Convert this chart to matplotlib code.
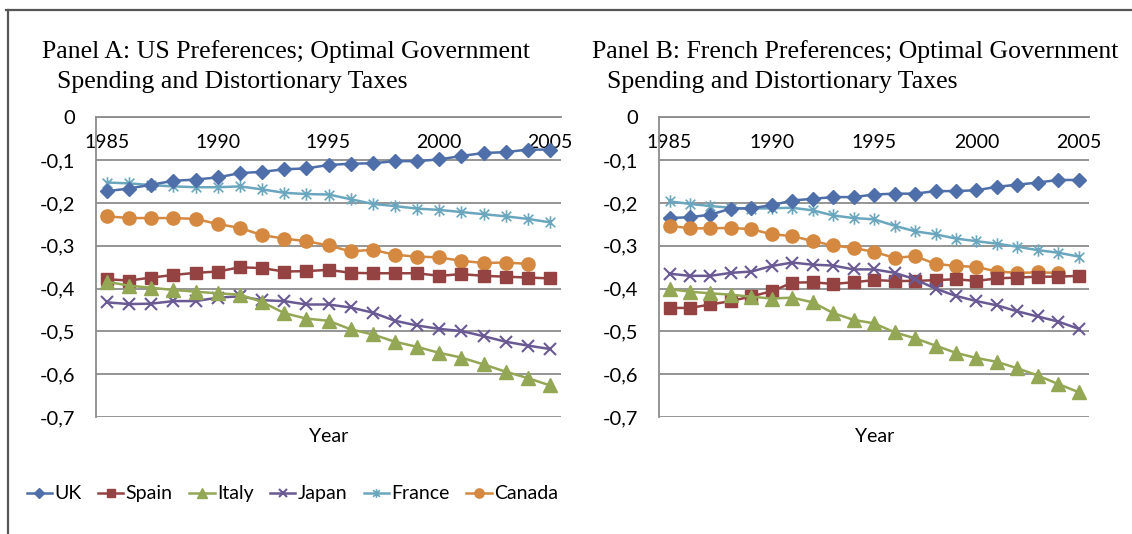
import matplotlib
matplotlib.use('Agg')
import matplotlib.pyplot as plt
from matplotlib.lines import Line2D
from matplotlib.path import Path

years = list(range(1985, 2006))
years_canada = list(range(1985, 2005))

# Panel A: US preferences
uk_a = [-0.172, -0.166, -0.157, -0.148, -0.145, -0.140, -0.130, -0.127, -0.121, -0.119, -0.111,
        -0.108, -0.107, -0.102, -0.102, -0.098, -0.090, -0.083, -0.081, -0.075, -0.075]
spain_a = [-0.378, -0.381, -0.374, -0.368, -0.363, -0.360, -0.350, -0.352, -0.360, -0.359, -0.356,
           -0.363, -0.364, -0.364, -0.364, -0.370, -0.366, -0.370, -0.372, -0.374, -0.376]
italy_a = [-0.384, -0.393, -0.398, -0.403, -0.407, -0.411, -0.414, -0.431, -0.457, -0.470, -0.475,
           -0.495, -0.507, -0.524, -0.536, -0.550, -0.561, -0.577, -0.594, -0.609, -0.626]
japan_a = [-0.432, -0.436, -0.435, -0.429, -0.429, -0.421, -0.418, -0.427, -0.429, -0.437, -0.437,
           -0.444, -0.456, -0.475, -0.486, -0.494, -0.499, -0.511, -0.524, -0.533, -0.541]
france_a = [-0.152, -0.154, -0.158, -0.161, -0.163, -0.163, -0.161, -0.168, -0.176, -0.179, -0.180,
            -0.191, -0.202, -0.207, -0.213, -0.216, -0.221, -0.226, -0.231, -0.237, -0.245]
canada_a = [-0.231, -0.235, -0.235, -0.235, -0.237, -0.249, -0.258, -0.275, -0.283, -0.289,
            -0.299, -0.313, -0.309, -0.321, -0.325, -0.327, -0.335, -0.340, -0.339, -0.342]

# Panel B: French preferences
uk_b = [-0.235, -0.233, -0.227, -0.213, -0.212, -0.205, -0.194, -0.190, -0.186, -0.186, -0.180,
        -0.178, -0.178, -0.172, -0.172, -0.170, -0.162, -0.157, -0.152, -0.146, -0.146]
spain_b = [-0.445, -0.445, -0.437, -0.429, -0.418, -0.406, -0.386, -0.385, -0.389, -0.385, -0.380,
           -0.382, -0.382, -0.380, -0.378, -0.382, -0.376, -0.374, -0.372, -0.372, -0.370]
italy_b = [-0.401, -0.407, -0.411, -0.414, -0.419, -0.423, -0.421, -0.432, -0.457, -0.473, -0.481,
           -0.502, -0.516, -0.533, -0.550, -0.562, -0.571, -0.586, -0.603, -0.623, -0.642]
japan_b = [-0.365, -0.370, -0.370, -0.363, -0.360, -0.347, -0.339, -0.344, -0.346, -0.355, -0.355,
           -0.363, -0.378, -0.400, -0.417, -0.429, -0.439, -0.453, -0.465, -0.477, -0.494]
france_b = [-0.196, -0.202, -0.207, -0.211, -0.213, -0.212, -0.211, -0.217, -0.229, -0.235, -0.238,
            -0.253, -0.266, -0.273, -0.283, -0.289, -0.295, -0.302, -0.310, -0.316, -0.325]
canada_b = [-0.253, -0.259, -0.259, -0.258, -0.261, -0.273, -0.277, -0.289, -0.299, -0.305,
            -0.314, -0.328, -0.324, -0.342, -0.347, -0.349, -0.360, -0.363, -0.362, -0.363]

xtick_vals = [1985, 1990, 1995, 2000, 2005]
ytick_vals = [0, -0.1, -0.2, -0.3, -0.4, -0.5, -0.6, -0.7]
ytick_labels = ['0', '-0,1', '-0,2', '-0,3', '-0,4', '-0,5', '-0,6', '-0,7']

titles = ['Panel A: US Preferences; Optimal Government',
          'Panel B: French Preferences; Optimal Government']
subtitle = 'Spending and Distortionary Taxes'

# asterisk marker like excel's "star" (X plus vertical bar)
star = Path([(-1, -1), (1, 1), (-1, 1), (1, -1), (0, -1.3), (0, 1.3)],
            [Path.MOVETO, Path.LINETO, Path.MOVETO, Path.LINETO, Path.MOVETO, Path.LINETO])

styles = {
    'UK': dict(color='#4E6FA9', marker='D', ms=7.5),
    'Spain': dict(color='#954242', marker='s', ms=8.5),
    'Italy': dict(color='#93A755', marker='^', ms=9.5),
    'Japan': dict(color='#6A5A94', marker='x', ms=8, mew=1.5),
    'France': dict(color='#6BA6BF', marker=star, ms=9, mew=1.2),
    'Canada': dict(color='#D5883F', marker='o', ms=9.5),
}

panel_a = {'UK': uk_a, 'Spain': spain_a, 'Italy': italy_a, 'Japan': japan_a,
           'France': france_a, 'Canada': canada_a}
panel_b = {'UK': uk_b, 'Spain': spain_b, 'Italy': italy_b, 'Japan': japan_b,
           'France': france_b, 'Canada': canada_b}

plt.rcParams['font.family'] = ['Lato', 'DejaVu Sans']

fig = plt.figure(figsize=(11.32, 5.34), dpi=100)
ax1 = fig.add_axes([0.0848, 0.219, 0.4108, 0.561])
ax2 = fig.add_axes([0.5824, 0.219, 0.3796, 0.561])

draw_order = ['France', 'UK', 'Canada', 'Spain', 'Japan', 'Italy']
for ax, data in [(ax1, panel_a), (ax2, panel_b)]:
    for name in draw_order:
        st = styles[name]
        xs = years_canada if name == 'Canada' else years
        ax.plot(xs, data[name], color=st['color'], lw=1.8, marker=st['marker'], ms=st['ms'],
                mfc=st['color'], mec=st['color'], mew=st.get('mew', 1), label=name, zorder=3)
    ax.set_xlim(1984.5, 2005.5)
    ax.set_ylim(-0.7, 0)
    ax.set_yticks(ytick_vals)
    ax.set_yticklabels(ytick_labels, fontsize=14.5)
    ax.set_xticks(xtick_vals)
    ax.set_xticklabels([str(v) for v in xtick_vals], fontsize=14)
    ax.tick_params(axis='x', top=True, bottom=False, labeltop=True, labelbottom=False,
                   length=0, pad=-24)
    ax.tick_params(axis='y', length=0, pad=15)
    ax.grid(axis='y', color='#8C8C8C', lw=1.3)
    ax.set_axisbelow(True)
    for s in ['right', 'bottom']:
        ax.spines[s].set_visible(False)
    ax.spines['left'].set_color('#8C8C8C')
    ax.spines['top'].set_color('#8C8C8C')
    ax.spines['left'].set_linewidth(1.3)
    ax.spines['top'].set_linewidth(1.3)
    ax.set_xlabel('Year', fontsize=14, labelpad=8)

# panel titles
fig.text(42 / 1132, 0.891, titles[0], family='Liberation Serif', fontsize=18.5, va='baseline')
fig.text(57 / 1132, 0.835, subtitle, family='Liberation Serif', fontsize=18.5, va='baseline')
fig.text(592 / 1132, 0.891, titles[1], family='Liberation Serif', fontsize=18.5, va='baseline')
fig.text(607 / 1132, 0.835, subtitle, family='Liberation Serif', fontsize=18.5, va='baseline')

# legend
handles = []
for name in styles:
    st = styles[name]
    handles.append(Line2D([], [], color=st['color'], lw=1.8, marker=st['marker'], ms=st['ms'] * 0.7,
                          mfc=st['color'], mec=st['color'], mew=st.get('mew', 1), label=name))
fig.legend(handles=handles, loc='center', bbox_to_anchor=(0.2583, 0.075), ncol=6, frameon=False,
           fontsize=14, handlelength=1.3, handletextpad=0.12, columnspacing=0.85,
           borderpad=0, borderaxespad=0)

# outer frame lines
fig.add_artist(Line2D([6 / 1132, 1], [1 - 10 / 534, 1 - 10 / 534], color='#555555', lw=1.6))
fig.add_artist(Line2D([7.5 / 1132, 7.5 / 1132], [0, 1 - 10 / 534], color='#555555', lw=1.6))

fig.savefig('out.png', dpi=100)
